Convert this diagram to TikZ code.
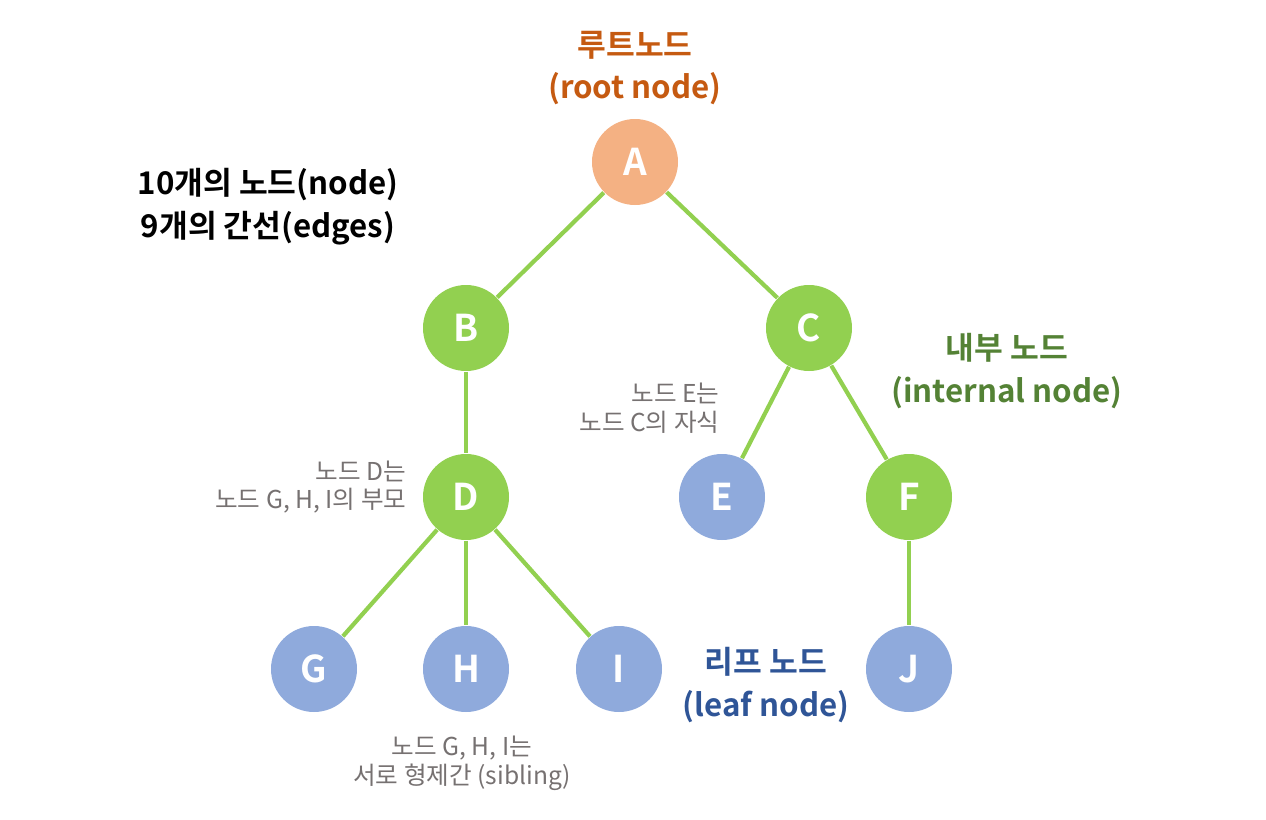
\documentclass[tikz,border=0pt]{standalone}
\usepackage{fontspec}
\setmainfont{Noto Sans CJK KR}[BoldFont={Noto Sans CJK KR Bold}]
\definecolor{rootfill}{HTML}{F4B183}
\definecolor{innerfill}{HTML}{92D050}
\definecolor{leaffill}{HTML}{8FAADC}
\definecolor{rootlab}{HTML}{C55A11}
\definecolor{innerlab}{HTML}{548235}
\definecolor{leaflab}{HTML}{2F5597}
\definecolor{notegray}{HTML}{767171}
\tikzset{
  treenode/.style={circle,minimum size=8.6mm,inner sep=0pt,text=white,font=\fontsize{10.5}{12}\selectfont\bfseries},
  rootnd/.style={treenode,fill=rootfill},
  innernd/.style={treenode,fill=innerfill},
  leafnd/.style={treenode,fill=leaffill},
  edge/.style={draw=innerfill,line width=1.2pt},
  biglab/.style={align=center,font=\fontsize{8.9}{12.2}\selectfont\bfseries},
  note/.style={text=notegray,inner sep=0pt,font=\fontsize{7}{8.2}\selectfont}
}
\begin{document}
\begin{tikzpicture}[x=0.1mm,y=-0.1mm]
  \useasboundingbox (0,0) rectangle (1266,819);
  % nodes
  \node[rootnd]  (A) at (635,162) {A};
  \node[innernd] (B) at (466,328) {B};
  \node[innernd] (C) at (809,328) {C};
  \node[innernd] (D) at (466,497) {D};
  \node[leafnd]  (E) at (722,497) {E};
  \node[innernd] (F) at (909,497) {F};
  \node[leafnd]  (G) at (314,669) {G};
  \node[leafnd]  (H) at (466,669) {H};
  \node[leafnd]  (I) at (619,669) {I};
  \node[leafnd]  (J) at (909,669) {J};
  % edges
  \draw[edge] (A) -- (B);
  \draw[edge] (A) -- (C);
  \draw[edge] (B) -- (D);
  \draw[edge] (C) -- (E);
  \draw[edge] (C) -- (F);
  \draw[edge] (D) -- (G);
  \draw[edge] (D) -- (H);
  \draw[edge] (D) -- (I);
  \draw[edge] (F) -- (J);
  % labels
  \node[biglab,text=rootlab]  (rootlab) at (635,68) {루트노드\\(root node)};
  \node[biglab]               (count)   at (268,207) {10개의 노드(node)\\9개의 간선(edges)};
  \node[biglab,text=innerlab] (innerlab) at (1007,371) {내부 노드\\(internal node)};
  \node[biglab,text=leaflab]  (leaflab) at (766,685) {리프 노드\\(leaf node)};
  \node[note,align=right,anchor=east]  (childnote)  at (720,408) {노드 E는\\노드 C의 자식};
  \node[note,align=right,anchor=east]  (parentnote) at (407,487) {노드 D는\\노드 G, H, I의 부모};
  \node[note,align=center]             (sibnote)    at (462,763) {노드 G, H, I는\\서로 형제간 (sibling)};
\end{tikzpicture}
\end{document}
